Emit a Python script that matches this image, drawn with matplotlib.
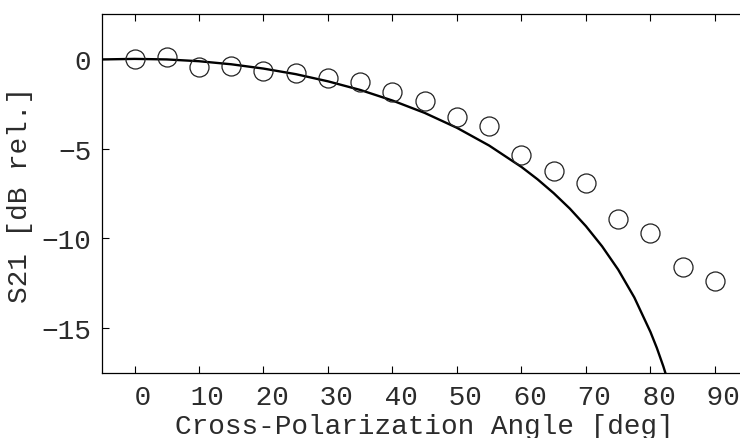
import matplotlib
matplotlib.use("Agg")
import matplotlib.pyplot as plt

# measured points (circles)
angle_meas = [0, 5, 10, 15, 20, 25, 30, 35, 40, 45, 50, 55, 60, 65, 70, 75, 80, 85, 90]
s21_meas = [0.0, 0.13, -0.46, -0.37, -0.69, -0.76, -1.06, -1.30, -1.86, -2.36,
            -3.26, -3.76, -5.36, -6.27, -6.89, -8.9, -9.7, -11.6, -12.4]

# model curve
angle_model = [-5, 0, 5, 10, 15, 20, 25, 30, 35, 40, 45, 50, 55, 60, 62.5, 65, 67.5,
               70, 72.5, 75, 77.5, 80, 81, 82, 83]
s21_model = [-0.03, 0.00, -0.03, -0.13, -0.30, -0.54, -0.85, -1.25, -1.73, -2.32, -3.01,
             -3.84, -4.83, -6.02, -6.71, -7.48, -8.34, -9.32, -10.44, -11.74,
             -13.29, -15.21, -16.11, -17.13, -18.28]

x_ticks = [0, 10, 20, 30, 40, 50, 60, 70, 80, 90]
x_labels = [" 0", " 10", " 20", " 30", " 40", " 50", " 60", " 70", " 80", " 90"]
y_ticks = [0, -5, -10, -15]

plt.rcParams['font.family'] = ['Liberation Mono', 'DejaVu Sans Mono']
plt.rcParams['font.size'] = 20
txt = "#2b2b2b"

fig = plt.figure(figsize=(7.4, 4.39), dpi=100)
ax = fig.add_axes([0.1382, 0.148, 0.8715, 0.8178])

ax.plot(angle_model, s21_model, color="black", lw=1.7, zorder=2)
ax.plot(angle_meas, s21_meas, ls="none", marker="o", ms=13.7,
        mfc="none", mec="#222222", mew=0.9, zorder=3)

ax.set_xlim(-5, 95)
ax.set_ylim(-17.5, 2.5)
ax.set_xticks(x_ticks)
ax.set_xticklabels(x_labels)
ax.set_yticks(y_ticks)
ax.tick_params(direction="in", length=5, width=0.8, top=True, right=True,
               labelsize=20, labelcolor=txt, pad=8)
ax.tick_params(axis="y", pad=8)
for s in ax.spines.values():
    s.set_linewidth(0.9)

ax.set_xlabel("Cross-Polarization Angle [deg]", fontsize=20, labelpad=2, color=txt)
ax.set_ylabel("S21 [dB rel.]", fontsize=20, labelpad=6, color=txt)

fig.savefig("out.png", dpi=100)
